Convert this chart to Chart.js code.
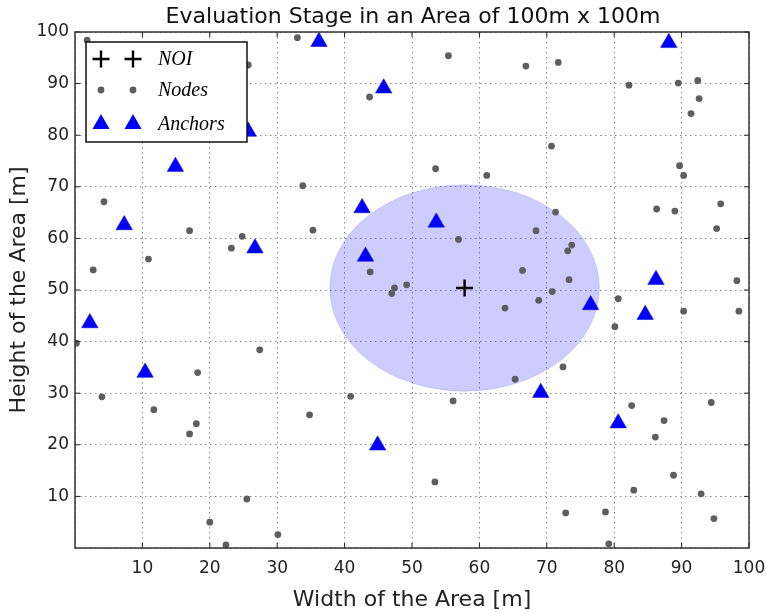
<!DOCTYPE html>
<html>
<head>
<meta charset="utf-8">
<script src="https://cdn.jsdelivr.net/npm/chart.js@4/dist/chart.umd.min.js"></script>
<style>
  html, body { margin: 0; padding: 0; background: #fff; }
  #box { width: 766px; height: 613px; }
</style>
</head>
<body>
<div id="box"><canvas id="c"></canvas></div>
<script>
// nodes (grey dots)
const nodeX = [1.8, 25.7, 33.0, 43.7, 33.8, 4.3, 17.0, 35.3, 24.8, 23.2, 10.9, 43.8, 2.7, 47.4, 49.2, 47.0,
  55.4, 66.9, 71.7, 82.2, 89.5, 92.4, 92.6, 91.4, 70.7, 53.5, 61.1, 89.7, 90.3, 95.8, 86.3, 89.0,
  71.3, 95.2, 68.4, 56.9, 73.7, 73.1, 66.4, 73.3, 98.2, 70.8, 68.8, 80.6, 63.8, 90.3, 98.5, 80.1,
  72.4, 65.3, 56.1, 82.6, 94.4, 87.4, 86.1, 88.8, 53.4, 82.9, 92.9, 72.8, 78.7, 94.8, 79.2,
  0.2, 27.4, 18.2, 4.0, 40.9, 11.7, 34.8, 18.0, 17.0, 25.5, 20.0, 30.1, 22.4];
const nodeY = [98.4, 93.6, 98.9, 87.4, 70.2, 67.1, 61.5, 61.6, 60.4, 58.1, 56.0, 53.5, 53.9, 50.4, 51.0, 49.3,
  95.4, 93.4, 94.1, 89.7, 90.1, 90.6, 87.1, 84.2, 77.9, 73.5, 72.2, 74.1, 72.2, 66.7, 65.7, 65.3,
  65.1, 61.9, 61.5, 59.8, 58.7, 57.6, 53.8, 52.0, 51.8, 49.7, 48.0, 48.3, 46.5, 45.9, 45.9, 42.9,
  35.1, 32.7, 28.5, 27.6, 28.2, 24.7, 21.5, 14.1, 12.8, 11.2, 10.5, 6.8, 7.0, 5.7, 0.8,
  39.7, 38.4, 34.0, 29.3, 29.4, 26.8, 25.8, 24.1, 22.1, 9.5, 5.0, 2.6, 0.6];

// anchors (blue triangles)
const anchorX = [36.2, 45.8, 25.7, 14.9, 42.6, 7.3, 26.7, 43.1, 53.6, 88.1, 2.2, 10.4, 44.9, 76.5, 84.6, 69.1, 80.6, 86.2];
const anchorY = [98.1, 89.1, 80.7, 73.9, 65.9, 62.6, 58.1, 56.5, 63.1, 97.9, 43.6, 34.0, 19.9, 47.1, 45.2, 30.1, 24.2, 52.0];

// node of interest and its range
const noiX = [57.8];
const noiY = [50.4];
const noiRange = 20;

const tickVals = [10, 20, 30, 40, 50, 60, 70, 80, 90, 100];
const legendNames = ["NOI", "Nodes", "Anchors"];

function pts(xs, ys) {
  return xs.map((v, i) => ({x: v, y: ys[i]}));
}

const rangePlugin = {
  id: "range",
  beforeDatasetsDraw(chart) {
    const ctx = chart.ctx;
    const sx = chart.scales.x, sy = chart.scales.y;
    const cx = sx.getPixelForValue(noiX[0]);
    const cy = sy.getPixelForValue(noiY[0]);
    const rx = sx.getPixelForValue(noiX[0] + noiRange) - cx;
    const ry = cy - sy.getPixelForValue(noiY[0] + noiRange);
    ctx.save();
    ctx.beginPath();
    ctx.ellipse(cx, cy, rx, ry, 0, 0, Math.PI * 2);
    ctx.fillStyle = "rgba(0,0,255,0.2)";
    ctx.fill();
    ctx.strokeStyle = "rgba(0,0,255,0.12)";
    ctx.lineWidth = 1;
    ctx.stroke();
    ctx.restore();
  }
};

const framePlugin = {
  id: "frame",
  afterDatasetsDraw(chart) {
    const ctx = chart.ctx;
    const a = chart.chartArea;
    const sx = chart.scales.x, sy = chart.scales.y;
    ctx.save();
    // inward ticks
    ctx.strokeStyle = "#222";
    ctx.lineWidth = 1;
    tickVals.forEach(v => {
      const px = sx.getPixelForValue(v);
      const py = sy.getPixelForValue(v);
      ctx.beginPath();
      ctx.moveTo(px, a.bottom); ctx.lineTo(px, a.bottom - 5);
      ctx.moveTo(px, a.top); ctx.lineTo(px, a.top + 5);
      ctx.moveTo(a.left, py); ctx.lineTo(a.left + 5, py);
      ctx.moveTo(a.right, py); ctx.lineTo(a.right - 5, py);
      ctx.stroke();
    });
    ctx.strokeStyle = "#333";
    ctx.lineWidth = 1.5;
    ctx.strokeRect(a.left, a.top, a.right - a.left, a.bottom - a.top);

    // title
    ctx.fillStyle = "#111";
    ctx.font = '22px "DejaVu Sans"';
    ctx.textAlign = "center";
    ctx.textBaseline = "alphabetic";
    ctx.fillText("Evaluation Stage in an Area of 100m x 100m", 413, 23);

    // legend
    const lx = a.left + 11, ly = a.top + 10, lw = 161, lh = 100;
    ctx.fillStyle = "#fff";
    ctx.fillRect(lx, ly, lw, lh);
    ctx.strokeStyle = "#111";
    ctx.lineWidth = 1.5;
    ctx.strokeRect(lx, ly, lw, lh);
    const rows = [ly + 17, ly + 48, ly + 82];
    const mx = [lx + 15, lx + 47];
    mx.forEach(x => {
      ctx.strokeStyle = "#000";
      ctx.lineWidth = 2.4;
      ctx.beginPath();
      ctx.moveTo(x - 8.5, rows[0]); ctx.lineTo(x + 8.5, rows[0]);
      ctx.moveTo(x, rows[0] - 8.5); ctx.lineTo(x, rows[0] + 8.5);
      ctx.stroke();
      ctx.fillStyle = "#5e5e5e";
      ctx.beginPath();
      ctx.arc(x, rows[1], 3.4, 0, Math.PI * 2);
      ctx.fill();
      ctx.fillStyle = "#0000ff";
      ctx.beginPath();
      ctx.moveTo(x, rows[2] - 10);
      ctx.lineTo(x + 8.5, rows[2] + 5);
      ctx.lineTo(x - 8.5, rows[2] + 5);
      ctx.closePath();
      ctx.fill();
    });
    ctx.fillStyle = "#000";
    ctx.font = 'italic 20px "Liberation Serif"';
    ctx.textAlign = "left";
    ctx.textBaseline = "middle";
    legendNames.forEach((n, i) => ctx.fillText(n, lx + 72, rows[i] + 1));
    ctx.restore();
  }
};

new Chart(document.getElementById("c"), {
  type: "scatter",
  data: {
    datasets: [
      {
        label: "Nodes",
        data: pts(nodeX, nodeY),
        pointStyle: "circle",
        pointRadius: 3.4,
        backgroundColor: "#5e5e5e",
        borderColor: "#5e5e5e",
        borderWidth: 0
      },
      {
        label: "Anchors",
        data: pts(anchorX, anchorY),
        pointStyle: "triangle",
        pointRadius: 9.5,
        backgroundColor: "#0000ff",
        borderColor: "#0000cc",
        borderWidth: 0.5
      },
      {
        label: "NOI",
        data: pts(noiX, noiY),
        pointStyle: "cross",
        pointRadius: 8.5,
        borderColor: "#000",
        borderWidth: 2.4
      }
    ]
  },
  options: {
    responsive: true,
    maintainAspectRatio: false,
    animation: false,
    layout: {padding: {top: 32, right: 17, left: 0, bottom: 0}},
    plugins: {
      legend: {display: false},
      tooltip: {enabled: false}
    },
    scales: {
      x: {
        type: "linear",
        min: 0,
        max: 100,
        afterFit: s => { s.height = 65; s.paddingLeft = 0; s.paddingRight = 0; },
        ticks: {
          stepSize: 10,
          padding: 10,
          color: "#222",
          font: {family: "DejaVu Sans", size: 17},
          callback: v => v === 0 ? "" : v
        },
        grid: {drawTicks: false, color: "rgba(60,60,60,0.6)", lineWidth: 1},
        border: {display: false, dash: [1.5, 3.5]},
        title: {
          display: true,
          text: "Width of the Area [m]",
          color: "#222",
          font: {family: "DejaVu Sans", size: 22},
          padding: {top: 2, bottom: 0}
        }
      },
      y: {
        type: "linear",
        min: 0,
        max: 100,
        afterFit: s => { s.width = 75; s.paddingTop = 0; s.paddingBottom = 0; },
        ticks: {
          stepSize: 10,
          padding: 6,
          color: "#222",
          font: {family: "DejaVu Sans", size: 17},
          callback: v => v === 0 ? "" : v
        },
        grid: {drawTicks: false, color: "rgba(60,60,60,0.6)", lineWidth: 1},
        border: {display: false, dash: [1.5, 3.5]},
        title: {
          display: true,
          text: "Height of the Area [m]",
          color: "#222",
          font: {family: "DejaVu Sans", size: 22},
          padding: {top: 6, bottom: 0}
        }
      }
    }
  },
  plugins: [rangePlugin, framePlugin]
});
</script>
</body>
</html>
